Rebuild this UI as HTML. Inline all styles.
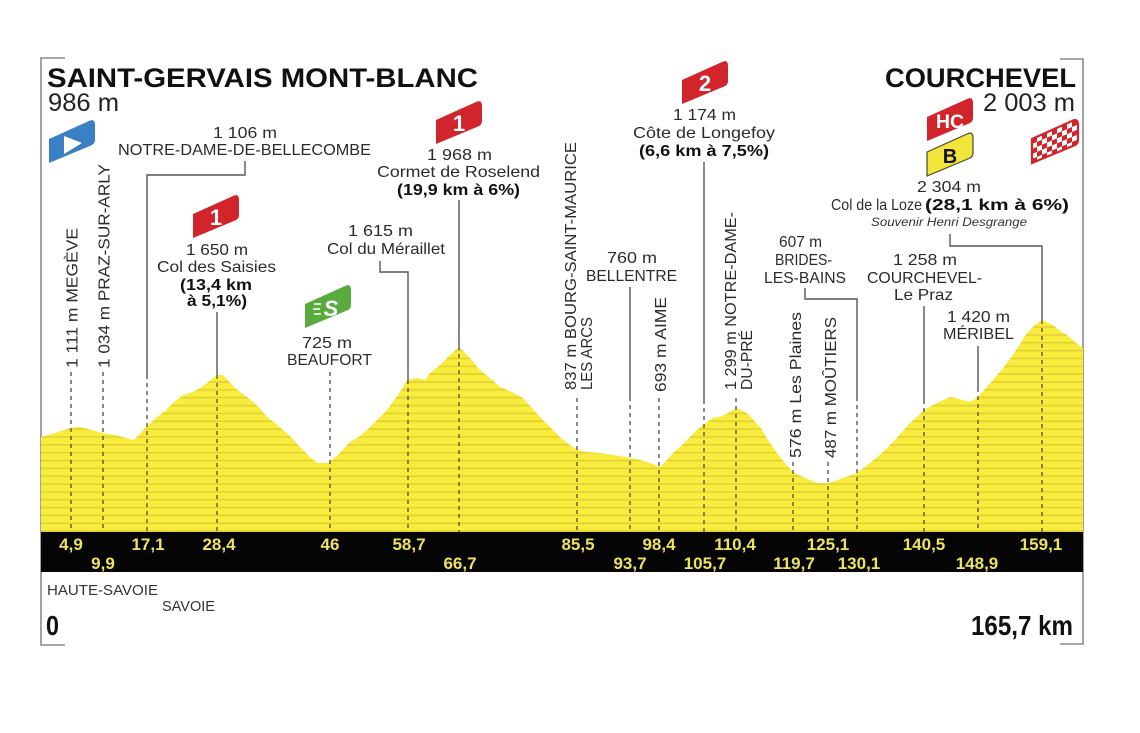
<!DOCTYPE html>
<html><head><meta charset="utf-8"><style>
html,body{margin:0;padding:0;background:#fff;}
svg{display:block;}
text{font-family:"Liberation Sans",sans-serif;}
.l{font-size:16px;fill:#2b2b2b;}
.b{font-size:16px;fill:#111;font-weight:bold;}
.k{font-size:17px;fill:#ece35e;font-weight:bold;text-anchor:middle;}
</style></head><body>
<svg width="1140" height="733" viewBox="0 0 1140 733" xmlns="http://www.w3.org/2000/svg">
<defs>
<pattern id="st" width="10" height="7.85" patternUnits="userSpaceOnUse" y="532">
<rect width="10" height="7.85" fill="#f9ec3c"/><rect y="6.2" width="10" height="1.6" fill="#dfd134"/>
</pattern>
<pattern id="ck" width="10" height="10" patternUnits="userSpaceOnUse" patternTransform="skewY(-23)">
<rect width="10" height="10" fill="#fff"/><rect width="5" height="5" fill="#d1242b"/><rect x="5" y="5" width="5" height="5" fill="#d1242b"/>
</pattern>
<path id="bd" d="M0,20 L40,2 Q46,-1 46,6 L46,21 Q46,25 42,26.5 L0,44 Z"/>
</defs>

<!-- frame -->
<path d="M65,58 H41 V645 H65" fill="none" stroke="#8a8a8a" stroke-width="1.6"/>
<path d="M1060,59 H1083 V644 H1060" fill="none" stroke="#8a8a8a" stroke-width="1.6"/>

<!-- profile -->
<polygon fill="url(#st)" points="41,437 55,433 70,428 80,427 92,430 102,433 115,435 123,437 133,440 140,434 146,427 157,417 165,411 173,403 183,395 193,392 200,388 207,383 217,375 223,375 235,388 247,397 257,405 267,417 275,423 283,430 292,438 300,447 310,457 317,463 328,463 338,455 350,442 360,436 367,430 377,420 387,410 400,392 407,380 417,378 425,380 430,373 440,365 450,355 459,347 470,358 480,370 490,378 500,387 512,392 523,398 532,408 540,417 550,427 560,437 570,445 577,450 587,452 600,453 613,455 631,458 640,460 650,463 660,467 667,460 673,453 682,445 690,437 697,430 703,425 713,418 722,416 730,412 736,408 747,413 760,427 768,440 777,453 785,463 793,472 803,477 810,480 817,483 828,483 835,481 843,478 857,473 870,463 882,453 893,442 902,432 910,423 918,416 924,410 937,403 950,397 963,400 970,402 978,397 985,389 993,380 1003,368 1013,355 1020,344 1027,333 1035,325 1042,320 1053,325 1060,331 1067,335 1075,342 1083,348 1083,532 41,532"/>

<!-- dashed lines -->
<g stroke="#4a4a4a" stroke-width="1.3" stroke-dasharray="4,4" fill="none">
<path d="M71,372V532M103,372V532M147,375V532M217,375V532M330,372V532M408,380V532M459,346V532M577,398V532M630,397V532M659,398V532M704,400V532M736,398V532M793,462V532M828,462V532M857,397V532M924,400V532M978,388V532M1042,320V532"/>
</g>
<!-- solid leaders -->
<g stroke="#555" stroke-width="1.4" fill="none">
<path d="M245,161V175H147V375"/>
<path d="M217,312V375"/>
<path d="M459,200V346"/>
<path d="M380,261V272H408V380"/>
<path d="M704,162V400"/>
<path d="M630,287V397"/>
<path d="M805,288V299H857V397"/>
<path d="M924,306V400"/>
<path d="M978,346V388"/>
<path d="M950,234V246H1042V320"/>
</g>

<!-- band -->
<rect x="41" y="532" width="1042" height="40" fill="#050505"/>
<g>
<text class="k" x="71" y="550">4,9</text>
<text class="k" x="103" y="569">9,9</text>
<text class="k" x="148" y="550">17,1</text>
<text class="k" x="219" y="550">28,4</text>
<text class="k" x="330" y="550">46</text>
<text class="k" x="409" y="550">58,7</text>
<text class="k" x="460" y="569">66,7</text>
<text class="k" x="578" y="550">85,5</text>
<text class="k" x="630" y="569">93,7</text>
<text class="k" x="659" y="550">98,4</text>
<text class="k" x="705" y="569">105,7</text>
<text class="k" x="735" y="550">110,4</text>
<text class="k" x="794" y="569">119,7</text>
<text class="k" x="828" y="550">125,1</text>
<text class="k" x="859" y="569">130,1</text>
<text class="k" x="924" y="550">140,5</text>
<text class="k" x="977" y="569">148,9</text>
<text class="k" x="1041" y="550">159,1</text>
</g>

<!-- headers -->
<text x="47" y="87" font-size="27" font-weight="bold" fill="#111" textLength="431" lengthAdjust="spacingAndGlyphs">SAINT-GERVAIS MONT-BLANC</text>
<text x="48" y="111" font-size="25" fill="#222" textLength="71" lengthAdjust="spacingAndGlyphs">986 m</text>
<text x="885" y="87" font-size="27" font-weight="bold" fill="#111" textLength="191" lengthAdjust="spacingAndGlyphs">COURCHEVEL</text>
<text x="983" y="111" font-size="25" fill="#222" textLength="92" lengthAdjust="spacingAndGlyphs">2 003 m</text>

<!-- bottom -->
<text x="47" y="595" font-size="15" fill="#333" textLength="111" lengthAdjust="spacingAndGlyphs">HAUTE-SAVOIE</text>
<text x="162" y="611" font-size="15" fill="#333" textLength="53" lengthAdjust="spacingAndGlyphs">SAVOIE</text>
<text x="46" y="635" font-size="28" font-weight="bold" fill="#111" textLength="13" lengthAdjust="spacingAndGlyphs">0</text>
<text x="971" y="635" font-size="28" font-weight="bold" fill="#111" textLength="102" lengthAdjust="spacingAndGlyphs">165,7 km</text>

<!-- horizontal labels -->
<g class="l">
<text class="l" x="213" y="138" textLength="64" lengthAdjust="spacingAndGlyphs">1 106 m</text>
<text class="l" x="118" y="155" textLength="253" lengthAdjust="spacingAndGlyphs">NOTRE-DAME-DE-BELLECOMBE</text>
<text class="l" x="186" y="255" textLength="62" lengthAdjust="spacingAndGlyphs">1 650 m</text>
<text class="l" x="157" y="272" textLength="119" lengthAdjust="spacingAndGlyphs">Col des Saisies</text>
<text class="b" x="180" y="290" textLength="72" lengthAdjust="spacingAndGlyphs">(13,4 km</text>
<text class="b" x="187" y="306" textLength="60" lengthAdjust="spacingAndGlyphs">à 5,1%)</text>
<text class="l" x="427" y="160" textLength="65" lengthAdjust="spacingAndGlyphs">1 968 m</text>
<text class="l" x="377" y="177" textLength="163" lengthAdjust="spacingAndGlyphs">Cormet de Roselend</text>
<text class="b" x="397" y="195" textLength="123" lengthAdjust="spacingAndGlyphs">(19,9 km à 6%)</text>
<text class="l" x="348" y="236" textLength="65" lengthAdjust="spacingAndGlyphs">1 615 m</text>
<text class="l" x="327" y="254" textLength="118" lengthAdjust="spacingAndGlyphs">Col du Méraillet</text>
<text class="l" x="302" y="348" textLength="50" lengthAdjust="spacingAndGlyphs">725 m</text>
<text class="l" x="287" y="365" textLength="85" lengthAdjust="spacingAndGlyphs">BEAUFORT</text>
<text class="l" x="673" y="120" textLength="63" lengthAdjust="spacingAndGlyphs">1 174 m</text>
<text class="l" x="633" y="138" textLength="142" lengthAdjust="spacingAndGlyphs">Côte de Longefoy</text>
<text class="b" x="639" y="156" textLength="130" lengthAdjust="spacingAndGlyphs">(6,6 km à 7,5%)</text>
<text class="l" x="607" y="263" textLength="50" lengthAdjust="spacingAndGlyphs">760 m</text>
<text class="l" x="586" y="281" textLength="91" lengthAdjust="spacingAndGlyphs">BELLENTRE</text>
<text class="l" x="779" y="247" textLength="43" lengthAdjust="spacingAndGlyphs">607 m</text>
<text class="l" x="775" y="265" textLength="57" lengthAdjust="spacingAndGlyphs">BRIDES-</text>
<text class="l" x="764" y="283" textLength="82" lengthAdjust="spacingAndGlyphs">LES-BAINS</text>
<text class="l" x="893" y="265" textLength="64" lengthAdjust="spacingAndGlyphs">1 258 m</text>
<text class="l" x="867" y="283" textLength="115" lengthAdjust="spacingAndGlyphs">COURCHEVEL-</text>
<text class="l" x="894" y="300" textLength="59" lengthAdjust="spacingAndGlyphs">Le Praz</text>
<text class="l" x="947" y="322" textLength="63" lengthAdjust="spacingAndGlyphs">1 420 m</text>
<text class="l" x="943" y="339" textLength="71" lengthAdjust="spacingAndGlyphs">MÉRIBEL</text>
<text class="l" x="917" y="192" textLength="64" lengthAdjust="spacingAndGlyphs">2 304 m</text>
<text class="l" x="831" y="210" textLength="91" lengthAdjust="spacingAndGlyphs">Col de la Loze</text>
<text class="b" x="925" y="210" textLength="144" lengthAdjust="spacingAndGlyphs">(28,1 km à 6%)</text>
<text x="871" y="226" font-size="12" font-style="italic" fill="#333" textLength="156" lengthAdjust="spacingAndGlyphs">Souvenir Henri Desgrange</text>
</g>

<!-- rotated labels -->
<g>
<text class="l" transform="translate(77.5,368) rotate(-90)" textLength="140" lengthAdjust="spacingAndGlyphs">1 111 m MEGÈVE</text>
<text class="l" transform="translate(109.5,368) rotate(-90)" textLength="204" lengthAdjust="spacingAndGlyphs">1 034 m PRAZ-SUR-ARLY</text>
<text class="l" transform="translate(576,390) rotate(-90)" textLength="248" lengthAdjust="spacingAndGlyphs">837 m BOURG-SAINT-MAURICE</text>
<text class="l" transform="translate(592,390) rotate(-90)" textLength="73" lengthAdjust="spacingAndGlyphs">LES ARCS</text>
<text class="l" transform="translate(666,392) rotate(-90)" textLength="95" lengthAdjust="spacingAndGlyphs">693 m AIME</text>
<text class="l" transform="translate(736,390) rotate(-90)" textLength="178" lengthAdjust="spacingAndGlyphs">1 299 m NOTRE-DAME-</text>
<text class="l" transform="translate(752,390) rotate(-90)" textLength="60" lengthAdjust="spacingAndGlyphs">DU-PRÉ</text>
<text class="l" transform="translate(801,458) rotate(-90)" textLength="146" lengthAdjust="spacingAndGlyphs">576 m Les Plaines</text>
<text class="l" transform="translate(836,458) rotate(-90)" textLength="141" lengthAdjust="spacingAndGlyphs">487 m MOÛTIERS</text>
</g>

<!-- badges -->
<g transform="translate(49,119)">
<use href="#bd" fill="#3b7fc4"/>
<polygon points="15,17 15,35 33,24" fill="#fff"/>
</g>
<g transform="translate(193,194)">
<use href="#bd" fill="#d1242b"/>
<text x="23" y="31" font-size="22" font-weight="bold" fill="#fff" text-anchor="middle">1</text>
</g>
<g transform="translate(436,100)">
<use href="#bd" fill="#d1242b"/>
<text x="23" y="31" font-size="22" font-weight="bold" fill="#fff" text-anchor="middle">1</text>
</g>
<g transform="translate(682,60)">
<use href="#bd" fill="#d1242b"/>
<text x="23" y="31" font-size="22" font-weight="bold" fill="#fff" text-anchor="middle">2</text>
</g>
<g transform="translate(305,284)">
<use href="#bd" fill="#5aab3e"/>
<text x="26" y="32" font-size="22" font-weight="bold" font-style="italic" fill="#fff" text-anchor="middle">S</text>
<path d="M9,20H16M8,25H15M9,30H16" stroke="#fff" stroke-width="1.6"/>
</g>
<g transform="translate(927,97)">
<use href="#bd" fill="#d1242b"/>
<text x="23" y="31" font-size="19" font-weight="bold" fill="#fff" text-anchor="middle" textLength="28" lengthAdjust="spacingAndGlyphs">HC</text>
</g>
<g transform="translate(927,132)">
<use href="#bd" fill="#f1e43a" stroke="#4a4a2a" stroke-width="1.2"/>
<text x="23" y="31" font-size="20" font-weight="bold" fill="#111" text-anchor="middle">B</text>
</g>
<g transform="translate(1032,119)">
<use href="#bd" fill="url(#ck)" stroke="#d1242b" stroke-width="2.2"/>
</g>
</svg>
</body></html>
